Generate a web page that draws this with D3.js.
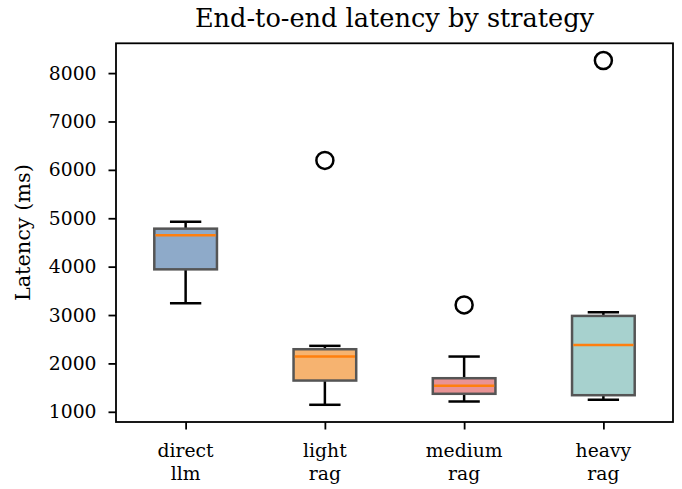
<!DOCTYPE html>
<html><head><meta charset="utf-8">
<script src="https://cdn.jsdelivr.net/npm/d3@7"></script>
<style>html,body{margin:0;padding:0;background:#fff;}svg{display:block;}</style>
</head><body>
<svg id="chart" width="682" height="489"></svg>
<script>
const categories = ["direct\nllm", "light\nrag", "medium\nrag", "heavy\nrag"];
const lowerWhisker = [3242, 1145, 1213, 1248];
const q1Values = [3944, 1646, 1372, 1343];
const medianValues = [4647, 2142, 1537, 2383];
const q3Values = [4785, 2293, 1694, 2982];
const upperWhisker = [4929, 2363, 2142, 3057];
const outliers = [[], [6195], [3209], [8260]];
const boxColors = ["#8eaac9", "#f6b370", "#e99394", "#a7d1ce"];
const yTicks = [1000, 2000, 3000, 4000, 5000, 6000, 7000, 8000];

const svg = d3.select("#chart");
const m = {left: 116, right: 673, top: 43.3, bottom: 422};
const font = "DejaVu Serif";
const tickFs = 18.75;
const labelFs = 20.8;

const x = d3.scaleLinear().domain([0.5, 4.5]).range([m.left, m.right]);
const allVals = lowerWhisker.concat(upperWhisker, outliers.flat());
const lo = d3.min(allVals), hi = d3.max(allVals), pad = (hi - lo) * 0.05;
const y = d3.scaleLinear().domain([lo - pad, hi + pad]).range([m.bottom, m.top]);

const boxW = 0.45 * (x(2) - x(1));
const capW = boxW / 2;
const lw = 2.5;

const g = svg.append("g");
categories.forEach((c, i) => {
  const cx = x(i + 1);
  g.append("line").attr("x1", cx).attr("x2", cx).attr("y1", y(lowerWhisker[i])).attr("y2", y(q1Values[i]))
    .attr("stroke", "#000").attr("stroke-width", lw);
  g.append("line").attr("x1", cx).attr("x2", cx).attr("y1", y(upperWhisker[i])).attr("y2", y(q3Values[i]))
    .attr("stroke", "#000").attr("stroke-width", lw);
  g.append("line").attr("x1", cx - capW / 2).attr("x2", cx + capW / 2).attr("y1", y(lowerWhisker[i])).attr("y2", y(lowerWhisker[i]))
    .attr("stroke", "#000").attr("stroke-width", lw);
  g.append("line").attr("x1", cx - capW / 2).attr("x2", cx + capW / 2).attr("y1", y(upperWhisker[i])).attr("y2", y(upperWhisker[i]))
    .attr("stroke", "#000").attr("stroke-width", lw);
  g.append("rect").attr("x", cx - boxW / 2).attr("width", boxW)
    .attr("y", y(q3Values[i])).attr("height", y(q1Values[i]) - y(q3Values[i]))
    .attr("fill", boxColors[i]).attr("stroke", "#555555").attr("stroke-width", lw);
  g.append("line").attr("x1", cx - boxW / 2 + 1.2).attr("x2", cx + boxW / 2 - 1.2).attr("y1", y(medianValues[i])).attr("y2", y(medianValues[i]))
    .attr("stroke", "#ff7f0e").attr("stroke-width", lw);
  outliers[i].forEach(v => {
    g.append("circle").attr("cx", cx).attr("cy", y(v)).attr("r", 8.5)
      .attr("fill", "none").attr("stroke", "#000").attr("stroke-width", lw);
  });
});

svg.append("rect").attr("x", m.left).attr("y", m.top).attr("width", m.right - m.left).attr("height", m.bottom - m.top)
  .attr("fill", "none").attr("stroke", "#000").attr("stroke-width", 1.8);

const yAxis = d3.axisLeft(y).tickValues(yTicks).tickSize(7.5).tickPadding(12).tickFormat(d3.format("d"));
const ya = svg.append("g").attr("transform", `translate(${m.left},0)`).call(yAxis);
ya.select(".domain").remove();
ya.selectAll(".tick line").attr("stroke", "#000").attr("stroke-width", 1.8);
ya.selectAll(".tick text").attr("font-family", font).attr("font-size", tickFs).attr("fill", "#000");

const xAxis = d3.axisBottom(x).tickValues([1, 2, 3, 4]).tickSize(7.5).tickFormat("");
const xa = svg.append("g").attr("transform", `translate(0,${m.bottom})`).call(xAxis);
xa.select(".domain").remove();
xa.selectAll(".tick line").attr("stroke", "#000").attr("stroke-width", 1.8);
categories.forEach((c, i) => {
  const t = svg.append("text").attr("x", x(i + 1)).attr("y", 457).attr("text-anchor", "middle")
    .attr("font-family", font).attr("font-size", tickFs).attr("fill", "#000");
  c.split("\n").forEach((line, j) => {
    t.append("tspan").attr("x", x(i + 1)).attr("dy", j === 0 ? 0 : 22.5).text(line);
  });
});

svg.append("text").attr("transform", `translate(30,${(m.top + m.bottom) / 2}) rotate(-90)`)
  .attr("text-anchor", "middle").attr("font-family", font).attr("font-size", labelFs).attr("fill", "#000")
  .text("Latency (ms)");
svg.append("text").attr("x", (m.left + m.right) / 2).attr("y", 27).attr("text-anchor", "middle")
  .attr("font-family", font).attr("font-size", 25.6).attr("fill", "#000")
  .text("End-to-end latency by strategy");
</script>
</body></html>
